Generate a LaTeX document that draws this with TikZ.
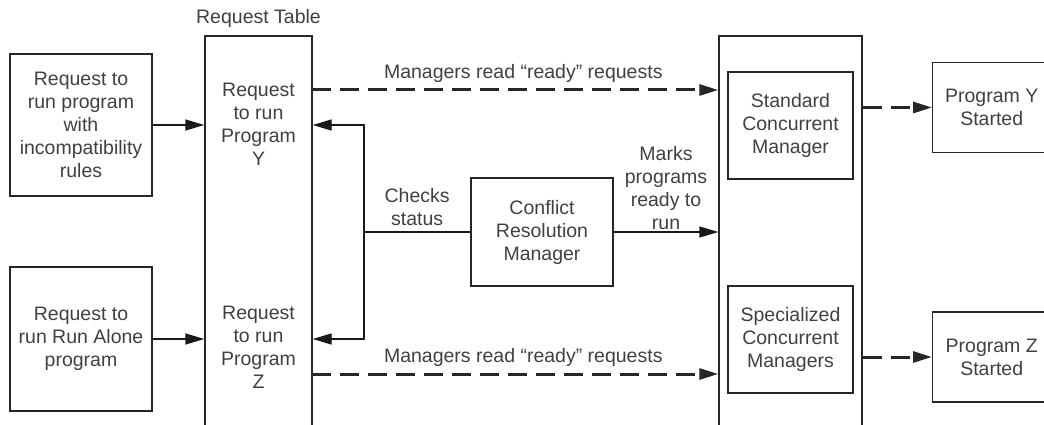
\documentclass[tikz,border=0pt]{standalone}
\usepackage{fontspec}
\setmainfont{Liberation Sans}
\usetikzlibrary{arrows.meta}

\begin{document}
\begin{tikzpicture}[x=1pt,y=-1pt,
	every node/.style={font=\fontsize{19.5}{23}\selectfont,text=black!75,align=center},
	box/.style={draw=black!85,line width=1.4pt,inner sep=0pt},
	link/.style={draw=black!90,line width=1.4pt},
	tip/.style={-{Triangle[length=19pt,width=11pt]}},
	ready/.style={draw=black!85,line width=3pt,dash pattern=on 19pt off 9pt}]
	\useasboundingbox (0,0) rectangle (1044,425);

	\pgfmathsetmacro{\tabtop}{36};
	\pgfmathsetmacro{\tabbot}{430};
	\pgfmathsetmacro{\tabmid}{(\tabtop+\tabbot)/2};
	\pgfmathsetmacro{\tabh}{\tabbot-\tabtop};

	% request table
	\node[box,minimum width=107pt,minimum height=\tabh pt] (table) at (258.5,\tabmid) {};
	\node (tabname) at (258.5,18) {Request Table};
	\node (reqY) at (258.5,124.5) {Request\\to run\\Program\\Y};
	\node (reqZ) at (258.5,347) {Request\\to run\\Program\\Z};

	\node[box,minimum width=142pt,minimum height=142pt] (rqIncompat) at (81,125) {Request to\\run program\\with\\incompatibility\\rules};
	\node[box,minimum width=142pt,minimum height=144pt] (rqAlone) at (81,339) {Request to\\run Run Alone\\program};

	% managers
	\node[box,minimum width=143pt,minimum height=\tabh pt] (mgr) at (790.5,\tabmid) {};
	\node[box,minimum width=125pt,minimum height=107pt] (stdcm) at (790.5,125.5) {Standard\\Concurrent\\Manager};
	\node[box,minimum width=125pt,minimum height=107pt] (speccm) at (790.5,339.5) {Specialized\\Concurrent\\Managers};
	\node[box,minimum width=142pt,minimum height=108pt] (crm) at (542,232) {Conflict\\Resolution\\Manager};

	\foreach \p/\y in {Y/107.5,Z/357} {
		\node[box,anchor=west,minimum width=118pt,minimum height=90pt] (prog\p) at (932,\y) {Program \p\\Started};
		\draw[ready,tip] (mgr.east |- prog\p) -- (prog\p.west);
		}

	% requests into the table
	\draw[link,tip] (rqIncompat) -- (rqIncompat -| table.west);
	\draw[link,tip] (rqAlone) -- (rqAlone -| table.west);

	% managers read ready requests
	\coordinate (rdY) at (312,90);
	\coordinate (rdZ) at (312,374);
	\foreach \r in {rdY,rdZ}
		\draw[ready,tip] (\r) -- (\r -| mgr.west) node[pos=0.52,above=3pt] {Managers read “ready” requests};

	% conflict resolution manager
	\coordinate (chk) at (364,232);
	\draw[link] (crm.west) -- (chk) node[midway,above=2pt] {Checks\\status};
	\draw[link,tip] (chk) |- (table.east |- rqIncompat);
	\draw[link,tip] (chk) |- (table.east |- rqAlone);
	\draw[link,tip] (crm.east) -- (crm.east -| mgr.west) node[midway,above,inner sep=2pt] {Marks\\programs\\ready to\\run};
\end{tikzpicture}
\end{document}
